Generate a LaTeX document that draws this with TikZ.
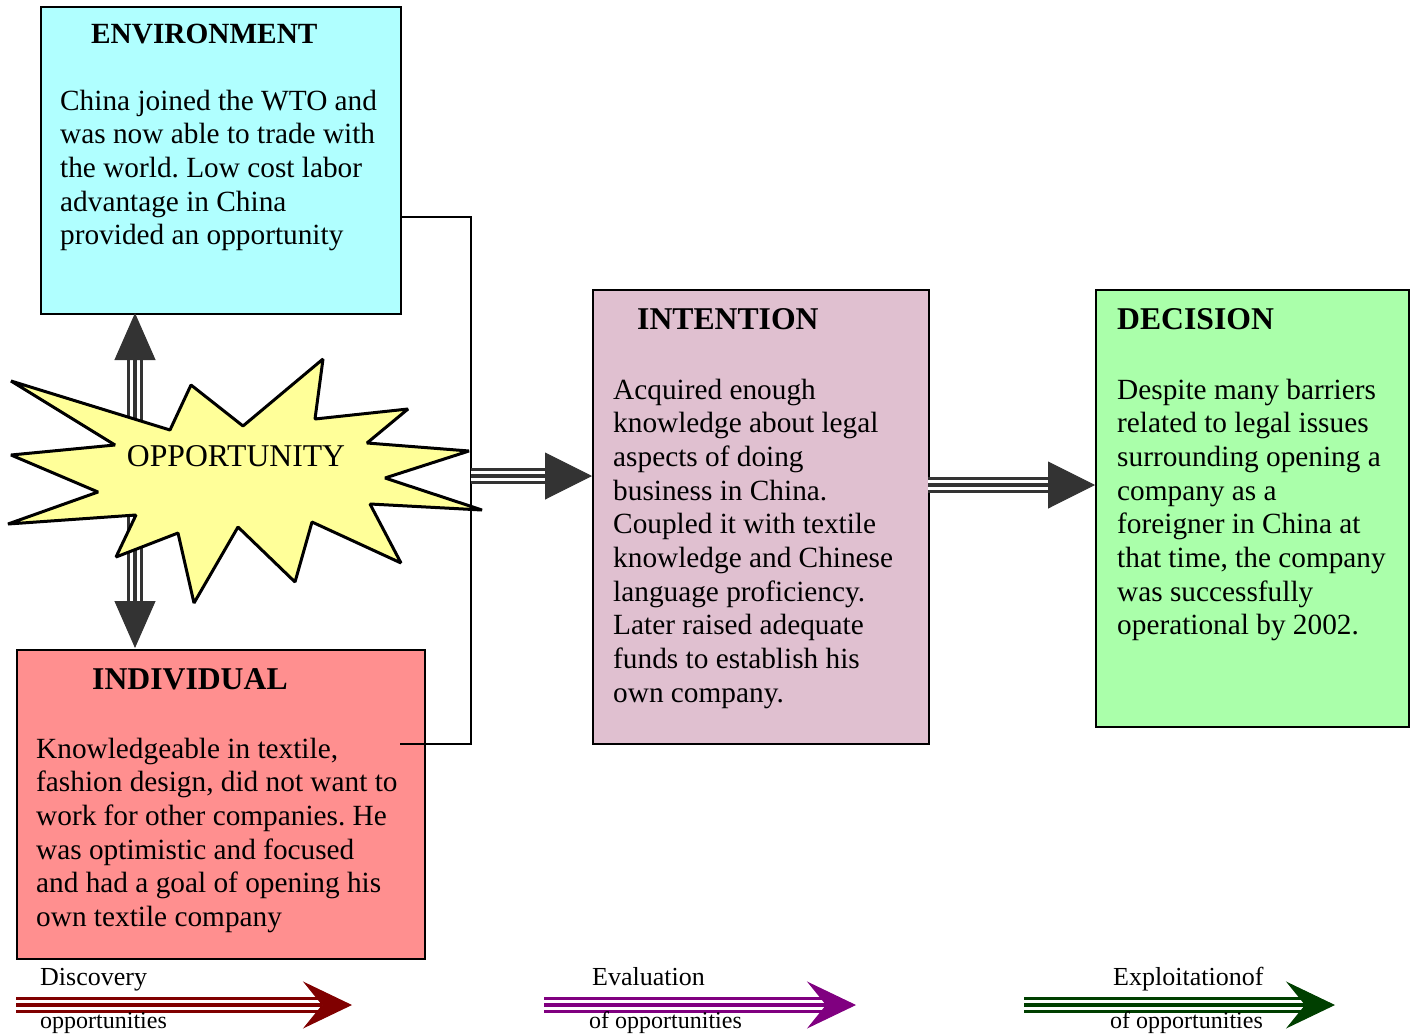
\documentclass[tikz,border=0pt]{standalone}
\usepackage{fontspec}
\setmainfont{Liberation Serif}
\usetikzlibrary{arrows.meta}

\definecolor{envcol}{HTML}{B0FFFF}
\definecolor{indcol}{HTML}{FF8F8F}
\definecolor{intcol}{HTML}{E0C0D0}
\definecolor{deccol}{HTML}{AAFFAA}
\definecolor{starcol}{HTML}{FFFF99}
\definecolor{arrgray}{HTML}{333333}
\definecolor{disccol}{HTML}{800000}
\definecolor{evalcol}{HTML}{800080}
\definecolor{explcol}{HTML}{003F00}

%Flecha de tres lineas: color, punta, recorte inicio, recorte fin, trazo
\newcommand{\bararrow}[5]{%
    \draw[#1,line width=16pt,shorten <=#3,shorten >=#4] #5;
    \draw[white,line width=10pt,shorten <=#3,shorten >=#4] #5;
    \draw[#1,line width=4pt,shorten <=#3,shorten >=#4] #5;
    \draw[#1,line width=1pt,#2] #5;
}

\tikzset{
    box/.style={draw=black,line width=2pt,anchor=north west,inner sep=0pt},
    boxtitle/.style={anchor=base west,inner sep=0pt,font=\fontsize{#1}{#1}\selectfont\bfseries},
    boxtitle/.default=29.3,
    boxtext/.style={anchor=base west,inner sep=0pt,text width=#1,
        execute at begin node={\spaceskip=0.25em plus 0.1em minus 0.05em\relax}},
    lbl/.style={anchor=base west,inner sep=0pt,font=\fontsize{#1}{#1}\selectfont},
    burst/.style={draw=black,fill=starcol,line width=3pt,line join=bevel},
}

\begin{document}
\frenchspacing
\fontsize{29.3}{33.7}\selectfont
\begin{tikzpicture}[x=1pt,y=-1pt]
    \useasboundingbox (0,0) rectangle (1411,1036);

    \def\tipgray{Triangle[length=47pt,width=47pt]}%Punta gris
    \def\tipflow{Stealth[length=49pt,width=47pt,inset=19pt]}%Punta flujo

    %Cajas
    \node[box,fill=envcol,minimum width=360pt,minimum height=307pt] (env) at (40,6) {};
    \node[box,fill=indcol,minimum width=408pt,minimum height=309pt] (indiv) at (16,649) {};
    \node[box,fill=intcol,minimum width=336pt,minimum height=454pt] (intent) at (592,289) {};
    \node[box,fill=deccol,minimum width=313pt,minimum height=437pt] (decis) at (1095,289) {};

    %Textos
    \node[boxtitle] (envhead) at (91,43) {ENVIRONMENT};
    \node[boxtext=340pt] (envtext) at (60,110) {China joined the WTO and\\was now able to trade with\\the world. Low cost labor\\advantage in China\\provided an opportunity};
    \node[boxtitle=31.7] (indhead) at (92,689) {INDIVIDUAL};
    \node[boxtext=385pt] (indtext) at (36,758) {Knowledgeable in textile,\\fashion design, did not want to\\work for other companies. He\\was optimistic and focused\\and had a goal of opening his\\own textile company};
    \node[boxtitle=31.7] (inthead) at (637,329) {INTENTION};
    \node[boxtext=312pt] (inttext) at (613,399) {Acquired enough\\knowledge about legal\\aspects of doing\\business in China.\\Coupled it with textile\\knowledge and Chinese\\language proficiency.\\Later raised adequate\\funds to establish his\\own company.};
    \node[boxtitle=31.7] (dechead) at (1117,329) {DECISION};
    \node[boxtext=288pt] (dectext) at (1117,399) {Despite many barriers\\related to legal issues\\surrounding opening a\\company as a\\foreigner in China at\\that time, the company\\was successfully\\operational by 2002.};

    %Conector
    \coordinate (envout) at (400,217);
    \coordinate (joint) at (471,744);
    \coordinate (indin) at (400,744);
    \draw[line width=2pt] (envout) -| (joint) -- (indin);

    %Flechas grises
    \coordinate (uptip) at (135,313);
    \coordinate (downtip) at (135,648);
    \coordinate (oppout) at (471,476);
    \coordinate (intin) at (592,476);
    \coordinate (intout) at (928,485);
    \coordinate (decin) at (1095,485);
    \bararrow{arrgray}{{Triangle[length=47pt,width=41pt]}-{Triangle[length=47pt,width=41pt]}}{46pt}{46pt}{(uptip)--(downtip)}
    \bararrow{arrgray}{-{\tipgray}}{0pt}{46pt}{(oppout)--(intin)}
    \bararrow{arrgray}{-{\tipgray}}{0pt}{46pt}{(intout)--(decin)}

    %Estrella
    \draw[burst] (11,381)--(170,430)--(191,385)--(243,426)--(323,359)--(315,419)
        --(408,409)--(367,443)--(469,451)--(385,478)--(482,510)--(370,504)
        --(401,563)--(312,522)--(295,582)--(238,527)--(194,603)--(178,533)
        --(116,557)--(136,515)--(8,524)--(98,492)--(11,455)--(115,445)--cycle;
    \node[anchor=base,inner sep=0pt,font=\fontsize{31.7}{31.7}\selectfont] (opp) at (236,466) {OPPORTUNITY};

    %Flechas de proceso
    \coordinate (discfrom) at (16,1005);
    \coordinate (discto) at (352,1005);
    \coordinate (evalfrom) at (544,1005);
    \coordinate (evalto) at (856,1005);
    \coordinate (explfrom) at (1024,1005);
    \coordinate (explto) at (1335,1005);
    \bararrow{disccol}{-{\tipflow}}{0pt}{30pt}{(discfrom)--(discto)}
    \bararrow{evalcol}{-{\tipflow}}{0pt}{30pt}{(evalfrom)--(evalto)}
    \bararrow{explcol}{-{\tipflow}}{0pt}{30pt}{(explfrom)--(explto)}

    \node[lbl=26] (disctop) at (40,985) {Discovery};
    \node[lbl=24] (discbot) at (40,1028) {opportunities};
    \node[lbl=26] (evaltop) at (592,985) {Evaluation};
    \node[lbl=24] (evalbot) at (589,1028) {of opportunities};
    \node[lbl=26] (expltop) at (1113,985) {Exploitationof};
    \node[lbl=24] (explbot) at (1110,1028) {of opportunities};
\end{tikzpicture}
\end{document}
